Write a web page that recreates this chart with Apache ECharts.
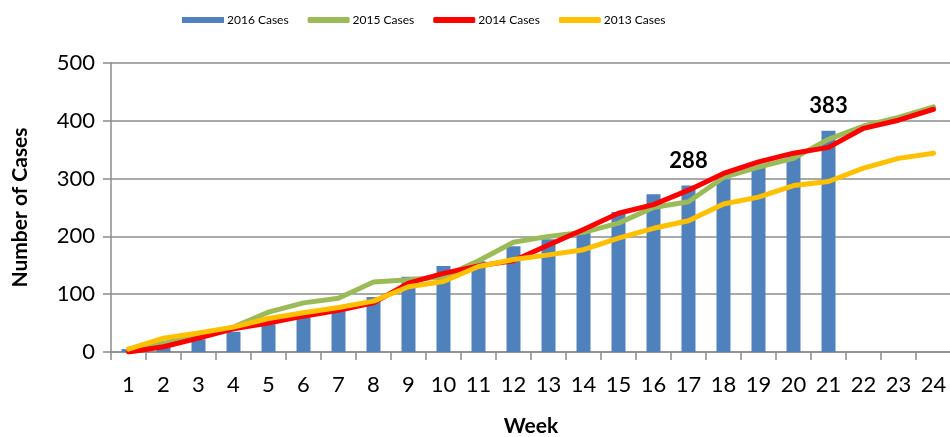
<!DOCTYPE html>
<html><head><meta charset="utf-8">
<script src="https://cdn.jsdelivr.net/npm/echarts@6/dist/echarts.min.js"></script>
<style>html,body{margin:0;padding:0;background:#fff}#c{width:950px;height:437px}</style>
</head><body><div id="c"></div>
<script>
var weeks = ['1','2','3','4','5','6','7','8','9','10','11','12','13','14','15','16','17','18','19','20','21','22','23','24'];
var cases2016 = [5, 8, 22, 35, 48, 60, 73, 95, 130, 149, 157, 183, 195, 208, 242, 273, 288, 299, 320, 341, 383, null, null, null];
var cases2015 = [5, 15, 30, 43, 69, 85, 93, 121, 125, 130, 158, 190, 200, 207, 223, 250, 260, 302, 320, 335, 368, 391, 406, 424];
var cases2014 = [0, 9, 24, 40, 50, 62, 72, 85, 119, 136, 149, 158, 185, 212, 240, 255, 280, 309, 329, 344, 354, 387, 401, 420];
var cases2013 = [5, 24, 33, 43, 58, 68, 77, 88, 113, 122, 148, 160, 168, 177, 197, 214, 227, 256, 268, 288, 295, 318, 335, 344];
var labeledWeeks = ['17', '21'];

var font = 'Lato, "Open Sans", sans-serif';
var barData = cases2016.map(function (v, i) {
  if (labeledWeeks.indexOf(weeks[i]) >= 0) {
    return { value: v, label: { show: true, position: 'top', distance: 14, fontSize: 22, fontWeight: 'bold', color: '#000', fontFamily: font } };
  }
  return v;
});
function lineSeries(name, data, color) {
  return { name: name, type: 'line', data: data, symbol: 'none', smooth: false,
    lineStyle: { color: color, width: 5, cap: 'round', join: 'round' }, itemStyle: { color: color } };
}
var chart = echarts.init(document.getElementById('c'), null, { renderer: 'canvas' });
chart.setOption({
  animation: false,
  textStyle: { fontFamily: font },
  legend: {
    top: 9, left: 177, itemGap: 19, itemWidth: 42, itemHeight: 6,
    textStyle: { fontSize: 12, color: '#000', fontFamily: font, padding: [0, 0, 0, -2] },
    data: [
      { name: '2016 Cases', icon: 'rect' },
      { name: '2015 Cases', icon: 'roundRect' },
      { name: '2014 Cases', icon: 'roundRect' },
      { name: '2013 Cases', icon: 'roundRect' }
    ]
  },
  grid: { left: 111, top: 63, width: 840, height: 289, containLabel: false, outerBoundsMode: 'none' },
  xAxis: {
    type: 'category', data: weeks, boundaryGap: true,
    name: 'Week', nameLocation: 'middle', nameGap: 64,
    nameTextStyle: { fontSize: 21, fontWeight: 'bold', color: '#000', fontFamily: font },
    axisLine: { lineStyle: { color: '#8c8c8c', width: 1.5 } },
    axisTick: { show: true, length: 8, lineStyle: { color: '#8c8c8c', width: 1.5 } },
    axisLabel: { fontSize: 22, color: '#000', margin: 22, interval: 0, fontFamily: font }
  },
  yAxis: {
    type: 'value', min: 0, max: 500, interval: 100,
    name: 'Number of Cases', nameLocation: 'middle', nameGap: 80, nameRotate: 90,
    nameTextStyle: { fontSize: 21, fontWeight: 'bold', color: '#000', fontFamily: font },
    axisLine: { show: true, lineStyle: { color: '#8c8c8c', width: 1.5 } },
    axisTick: { show: true, length: 8, lineStyle: { color: '#8c8c8c', width: 1.5 } },
    axisLabel: { fontSize: 22, color: '#000', margin: 16, fontFamily: font },
    splitLine: { lineStyle: { color: '#8c8c8c', width: 1.5 } }
  },
  series: [
    { name: '2016 Cases', type: 'bar', data: barData, barWidth: 14, itemStyle: { color: '#4F81BD' } },
    lineSeries('2015 Cases', cases2015, '#9BBB59'),
    lineSeries('2014 Cases', cases2014, '#FF0000'),
    lineSeries('2013 Cases', cases2013, '#FFC000')
  ]
});
</script></body></html>
